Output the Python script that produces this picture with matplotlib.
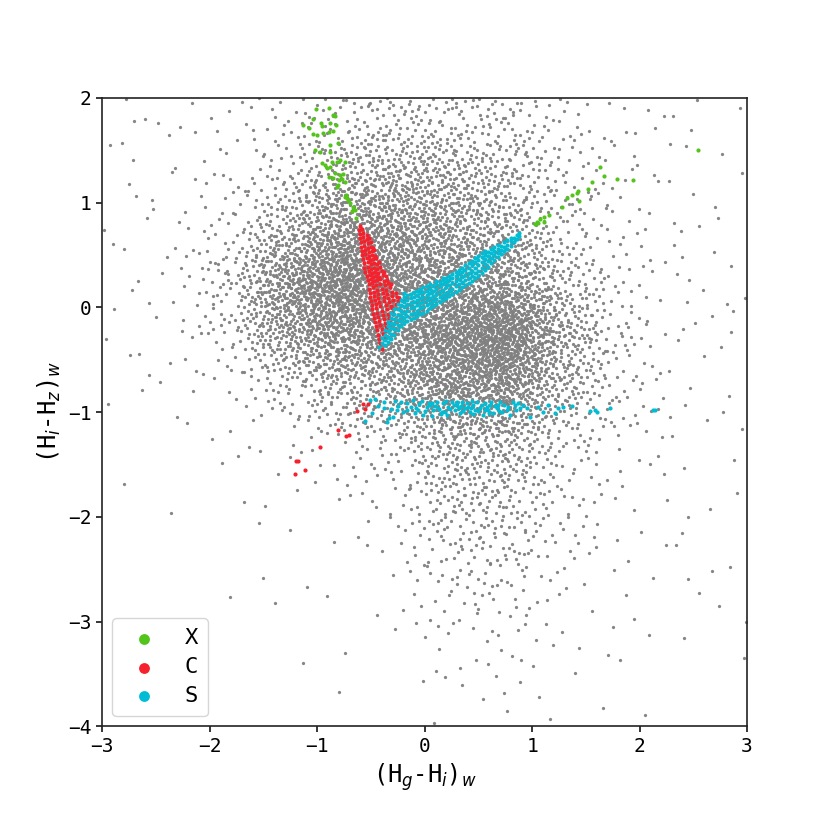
import numpy as np
import matplotlib
matplotlib.use('Agg')
import matplotlib.pyplot as plt

plt.rcParams['font.family'] = ['DejaVu Sans Mono', 'DejaVu Sans']
plt.rcParams['mathtext.fontset'] = 'dejavusans'

# ---------------- data ----------------
# gray background cloud: point counts per 0.5 x 0.5 cell
# rows from y=2 (top) down to y=-4, columns from x=-3 to x=3
gray_x_centers = [-2.75, -2.25, -1.75, -1.25, -0.75, -0.25, 0.25, 0.75, 1.25, 1.75, 2.25, 2.75]
gray_y_centers = [1.75, 1.25, 0.75, 0.25, -0.25, -0.75, -1.25, -1.75, -2.25, -2.75, -3.25, -3.75]
gray_counts = [
    [5, 5, 8, 18, 40, 50, 50, 40, 20, 8, 4, 3],
    [4, 5, 12, 45, 120, 150, 130, 90, 35, 12, 5, 3],
    [3, 7, 28, 130, 280, 260, 200, 130, 45, 14, 6, 3],
    [3, 12, 60, 300, 460, 340, 280, 260, 80, 20, 7, 3],
    [3, 7, 40, 200, 320, 280, 420, 520, 170, 35, 8, 4],
    [2, 4, 12, 45, 100, 160, 330, 330, 120, 30, 7, 3],
    [1, 2, 5, 10, 20, 45, 120, 120, 45, 14, 5, 3],
    [1, 1, 2, 4, 6, 15, 70, 75, 25, 8, 4, 2],
    [0, 1, 1, 2, 3, 8, 40, 45, 15, 6, 3, 2],
    [0, 0, 1, 1, 2, 4, 20, 22, 8, 3, 2, 3],
    [0, 0, 0, 1, 1, 2, 8, 8, 4, 2, 1, 2],
    [0, 0, 0, 0, 0, 1, 3, 3, 2, 1, 1, 0],
]

green_x = [-1.010, -0.892, -0.848, -0.830, -1.127, -1.040, -1.071, -0.963, -0.957, -0.879,
           -0.823, -0.892, -0.848, -1.034, -0.947, -1.003, -0.805, -0.879, -1.019, -0.972,
           -0.879, -0.786, -0.817, -0.740, -0.957, -0.926, -0.879, -0.833, -0.786, -0.761,
           -0.885, -0.848, -0.792, -0.740, -0.811, -0.802, -0.730, -0.724, -0.709, -0.693,
           -0.662, -0.678, -0.647, -0.637, -0.740, -0.771, -0.864, -0.910,
           2.541, 1.636, 1.673, 1.787, 1.943, 1.561, 1.524, 1.431, 1.422, 1.437,
           1.369, 1.329, 1.276, 1.158, 1.111, 1.111, 1.074, 1.043, 1.028, 1.059]
green_y = [1.892, 1.901, 1.838, 1.828, 1.742, 1.796, 1.710, 1.758, 1.733, 1.758,
           1.742, 1.678, 1.688, 1.656, 1.669, 1.647, 1.567, 1.551, 1.503, 1.487,
           1.487, 1.408, 1.392, 1.392, 1.376, 1.360, 1.344, 1.287, 1.265, 1.274,
           1.242, 1.233, 1.217, 1.201, 1.153, 1.169, 1.074, 1.042, 1.026, 0.994,
           0.962, 0.924, 0.930, 0.851, 1.058, 1.223, 1.392, 1.328,
           1.503, 1.344, 1.258, 1.223, 1.217, 1.201, 1.131, 1.112, 1.096, 1.019,
           1.073, 1.042, 0.956, 0.883, 0.867, 0.819, 0.841, 0.819, 0.797, 0.803]

red_x = [-0.60,
         -0.61, -0.58,
         -0.60, -0.57, -0.54,
         -0.60, -0.57, -0.54, -0.52,
         -0.59, -0.56, -0.53, -0.50,
         -0.59, -0.56, -0.53, -0.50, -0.48,
         -0.58, -0.55, -0.52, -0.49, -0.47,
         -0.58, -0.55, -0.52, -0.49, -0.46,
         -0.57, -0.54, -0.51, -0.48, -0.45,
         -0.56, -0.53, -0.50, -0.47, -0.44, -0.42,
         -0.56, -0.53, -0.50, -0.47, -0.44, -0.41,
         -0.55, -0.52, -0.49, -0.46, -0.43, -0.40, -0.38,
         -0.54, -0.51, -0.48, -0.45, -0.42, -0.39, -0.36,
         -0.53, -0.50, -0.47, -0.44, -0.41, -0.38, -0.35,
         -0.52, -0.49, -0.45, -0.41, -0.37, -0.34, -0.31,
         -0.52, -0.48, -0.44, -0.40, -0.36, -0.32,
         -0.51, -0.47, -0.43, -0.39, -0.35, -0.30, -0.27,
         -0.51, -0.47, -0.43, -0.38, -0.34, -0.30, -0.26, -0.24,
         -0.50, -0.46, -0.42, -0.38, -0.33, -0.29, -0.25,
         -0.49, -0.45, -0.41, -0.36, -0.31, -0.27,
         -0.49, -0.45, -0.40, -0.35, -0.30,
         -0.48, -0.44, -0.39, -0.34, -0.30,
         -0.47, -0.43, -0.38, -0.33,
         -0.46, -0.42, -0.37, -0.32,
         -0.45, -0.41, -0.36,
         -0.44, -0.40, -0.36,
         -0.43, -0.39,
         -0.42, -0.38,
         -0.41,
         -0.40,
         -0.569, -0.528, -0.553, -0.631, -0.808, -0.733, -0.699, -0.972,
         -1.195, -1.180, -1.111, -1.204]
red_y = [0.78,
         0.74, 0.75,
         0.70, 0.71, 0.69,
         0.66, 0.67, 0.65, 0.66,
         0.62, 0.63, 0.61, 0.62,
         0.58, 0.59, 0.57, 0.58, 0.57,
         0.54, 0.55, 0.53, 0.54, 0.55,
         0.50, 0.51, 0.49, 0.50, 0.49,
         0.46, 0.47, 0.45, 0.46, 0.47,
         0.42, 0.43, 0.41, 0.42, 0.41, 0.43,
         0.38, 0.39, 0.37, 0.38, 0.37, 0.39,
         0.34, 0.35, 0.33, 0.34, 0.33, 0.35, 0.34,
         0.30, 0.31, 0.29, 0.30, 0.29, 0.31, 0.30,
         0.26, 0.27, 0.25, 0.26, 0.27, 0.25, 0.26,
         0.22, 0.23, 0.21, 0.22, 0.21, 0.23, 0.22,
         0.18, 0.19, 0.17, 0.18, 0.17, 0.19,
         0.14, 0.15, 0.13, 0.14, 0.13, 0.15, 0.14,
         0.10, 0.11, 0.09, 0.10, 0.09, 0.11, 0.10, 0.09,
         0.06, 0.07, 0.05, 0.06, 0.05, 0.07, 0.06,
         0.02, 0.03, 0.01, 0.02, 0.01, 0.03,
         -0.02, -0.01, -0.03, -0.02, -0.01,
         -0.06, -0.05, -0.07, -0.06, -0.05,
         -0.10, -0.09, -0.11, -0.10,
         -0.14, -0.13, -0.15, -0.14,
         -0.18, -0.17, -0.19,
         -0.22, -0.21, -0.23,
         -0.26, -0.25,
         -0.30, -0.29,
         -0.34,
         -0.40,
         -0.922, -0.922, -0.970, -0.989, -1.171, -1.228, -1.219, -1.336,
         -1.467, -1.467, -1.553, -1.594]

# cyan V-arm: column x positions with the y values seen in each column
cyan_arm_x = [-0.42, -0.40, -0.37, -0.34, -0.31, -0.28, -0.25, -0.22, -0.19, -0.16,
              -0.13, -0.10, -0.07, -0.04, -0.01, 0.02, 0.05, 0.08, 0.11, 0.14,
              0.17, 0.20, 0.23, 0.26, 0.29, 0.32, 0.35, 0.38, 0.41, 0.44,
              0.47, 0.50, 0.53, 0.56, 0.59, 0.62, 0.65, 0.68, 0.71, 0.74,
              0.77, 0.80, 0.83, 0.86, 0.88]
cyan_arm_y = [[-0.38],
              [-0.34, -0.29],
              [-0.36, -0.31, -0.26, -0.22],
              [-0.33, -0.28, -0.23, -0.18, -0.14],
              [-0.30, -0.25, -0.20, -0.15, -0.10, -0.05],
              [-0.26, -0.21, -0.16, -0.11, -0.06, -0.02],
              [-0.22, -0.17, -0.12, -0.07, -0.02, 0.03],
              [-0.18, -0.13, -0.08, -0.03, 0.02, 0.07],
              [-0.15, -0.10, -0.05, 0.00, 0.05, 0.10, 0.14],
              [-0.13, -0.08, -0.03, 0.02, 0.07, 0.12],
              [-0.11, -0.06, -0.01, 0.04, 0.09, 0.13],
              [-0.10, -0.05, 0.00, 0.05, 0.10, 0.15],
              [-0.08, -0.03, 0.02, 0.07, 0.12, 0.16],
              [-0.06, -0.01, 0.04, 0.09, 0.14, 0.18],
              [-0.05, 0.00, 0.05, 0.10, 0.15, 0.19],
              [-0.03, 0.02, 0.07, 0.12, 0.16, 0.20],
              [-0.01, 0.04, 0.09, 0.14, 0.18, 0.22],
              [0.01, 0.06, 0.11, 0.16, 0.20],
              [0.03, 0.08, 0.13, 0.18, 0.22, 0.25],
              [0.05, 0.10, 0.15, 0.20, 0.24],
              [0.07, 0.12, 0.17, 0.22, 0.26, 0.28],
              [0.09, 0.14, 0.19, 0.24, 0.28],
              [0.11, 0.16, 0.21, 0.26, 0.30],
              [0.13, 0.18, 0.23, 0.28, 0.32],
              [0.15, 0.20, 0.25, 0.30, 0.34],
              [0.17, 0.22, 0.27, 0.32, 0.36],
              [0.19, 0.24, 0.29, 0.34, 0.38],
              [0.21, 0.26, 0.31, 0.36, 0.40],
              [0.23, 0.28, 0.33, 0.38, 0.42],
              [0.25, 0.30, 0.35, 0.40, 0.44],
              [0.28, 0.33, 0.38, 0.43, 0.47],
              [0.30, 0.35, 0.40, 0.45, 0.49],
              [0.33, 0.38, 0.43, 0.48, 0.52],
              [0.36, 0.41, 0.46, 0.50, 0.54],
              [0.39, 0.44, 0.49, 0.53],
              [0.42, 0.47, 0.52, 0.56],
              [0.45, 0.50, 0.54, 0.58],
              [0.48, 0.52, 0.56, 0.60],
              [0.51, 0.55, 0.59],
              [0.54, 0.58, 0.62],
              [0.56, 0.60, 0.64],
              [0.59, 0.63, 0.66],
              [0.62, 0.66],
              [0.65, 0.69],
              [0.68, 0.71]]

# cyan horizontal band near y = -0.95
cyan_band_x = [-0.553, -0.507, -0.460, -0.429, -0.491, -0.377, -0.352, -0.327, -0.274, -0.290,
               -0.252, -0.243, -0.166, -0.166, -0.104, -0.088, -0.057, -0.026, -0.011, 0.020,
               0.051, 0.067, 0.082, 0.113, 0.129, 0.160, 0.175, 0.206, 0.222, 0.253,
               0.284, 0.299, 0.330, 0.346, 0.377, 0.392, 0.423, 0.454, 0.470, 0.485,
               0.517, 0.547, 0.563, 0.594, 0.609, 0.641, 0.672, 0.703, 0.718, 0.765,
               0.796, 0.842, 0.873, 0.889, 0.951, 0.982, 1.059, 1.106, 1.152, 1.214,
               1.245, 1.292, 1.369, 1.540, 1.586, 1.602, 1.726, 2.129, 2.144,
               -0.13, -0.05, 0.00, 0.10, 0.15, 0.24, 0.27, 0.32, 0.36, 0.40,
               0.44, 0.50, 0.53, 0.58, 0.62, 0.66, 0.69, 0.74, 0.78, 0.82,
               0.45, 0.20, -0.20, -0.38,
               -0.08, 0.04, 0.13, 0.19, 0.30, 0.43, 0.56, 0.68, 0.85, 0.92,
               -0.31, -0.22, 0.07, 0.34, 0.60]
cyan_band_y = [-1.085, -0.884, -0.875, -0.938, -1.012, -0.957, -1.091, -1.053, -0.894, -1.043,
               -0.980, -0.938, -0.916, -0.980, -0.884, -1.012, -0.980, -0.894, -1.028, -0.948,
               -0.932, -1.034, -0.980, -0.900, -0.964, -0.996, -0.916, -1.028, -0.948, -0.900,
               -0.980, -0.932, -1.012, -0.900, -0.964, -0.916, -0.996, -0.932, -0.980, -0.900,
               -0.964, -1.028, -0.916, -0.980, -0.932, -1.012, -0.964, -0.900, -0.996, -0.980,
               -1.028, -0.932, -0.916, -0.964, -0.957, -1.043, -0.948, -0.996, -0.932, -1.012,
               -0.957, -0.948, -0.938, -0.989, -0.980, -0.996, -0.964, -0.980, -0.980,
               -0.95, -0.92, -0.99, -0.94, -1.02, -0.97, -0.93, -0.96, -0.99, -0.95,
               -0.89, -0.99, -0.93, -0.95, -0.90, -0.94, -0.99, -0.93, -0.95, -0.90,
               -1.02, -0.89, -1.00, -0.90,
               -0.96, -0.91, -0.97, -1.00, -0.90, -0.96, -0.98, -0.93, -0.98, -0.93,
               -0.97, -0.90, -0.91, -0.94, -1.01]

labels = ['X', 'C', 'S']
colors = ['#52c41a', '#f5222d', '#00bcd4']
x_ticks = [-3, -2, -1, 0, 1, 2, 3]
y_ticks = [-4, -3, -2, -1, 0, 1, 2]

# ---------------- gray cloud placement (deterministic, follows the counts) ----------------
def halton(n, base):
    i = np.arange(1, n + 1)
    f = 1.0
    r = np.zeros(n)
    while np.any(i > 0):
        f /= base
        r += f * (i % base)
        i = i // base
    return r

counts = np.array(gray_counts, dtype=float)[::-1]      # rows now y ascending
gxc = np.array(gray_x_centers)
gyc = np.array(gray_y_centers)[::-1]
cmax = counts.max()
n_cand = int(len(gxc) * len(gyc) * cmax)
u = -3 + 6 * halton(n_cand, 2)
v = -4 + 6 * halton(n_cand, 3)
w = halton(n_cand, 5)

fx = np.clip((u - gxc[0]) / 0.5, 0, len(gxc) - 1.0001)
fy = np.clip((v - gyc[0]) / 0.5, 0, len(gyc) - 1.0001)
ix = np.floor(fx).astype(int)
iy = np.floor(fy).astype(int)
tx = fx - ix
ty = fy - iy
dens = (counts[iy, ix] * (1 - tx) * (1 - ty) + counts[iy, ix + 1] * tx * (1 - ty)
        + counts[iy + 1, ix] * (1 - tx) * ty + counts[iy + 1, ix + 1] * tx * ty)
keep = w < dens / cmax
gray_px = u[keep]
gray_py = v[keep]

cyan_x = [cx for cx, col in zip(cyan_arm_x, cyan_arm_y) for _ in col] + cyan_band_x
cyan_y = [cy for col in cyan_arm_y for cy in col] + cyan_band_y

# ---------------- figure ----------------
fig = plt.figure(figsize=(8.3, 8.3), dpi=100)
ax = fig.add_axes([0.123, 0.125, 0.777, 0.757])

ax.scatter(gray_px, gray_py, s=5.5, c='#808080', alpha=0.95, linewidths=0, zorder=1)
ax.scatter(green_x, green_y, s=9, c=colors[0], linewidths=0, label=labels[0], zorder=2)
ax.scatter(red_x, red_y, s=9, c=colors[1], linewidths=0, label=labels[1], zorder=3)
ax.scatter(cyan_x, cyan_y, s=9, c=colors[2], linewidths=0, label=labels[2], zorder=4)

ax.set_xlim(-3, 3)
ax.set_ylim(-4, 2)
ax.set_xticks(x_ticks)
ax.set_yticks(y_ticks)
ax.tick_params(labelsize=14, length=4, width=1.1)
for sp in ax.spines.values():
    sp.set_linewidth(1.2)
    sp.set_color('#222222')

ax.set_xlabel(r'(H$_g$-H$_i$)$_w$', fontsize=17)
ax.set_ylabel(r'(H$_i$-H$_z$)$_w$', fontsize=17)

leg = ax.legend(loc='lower left', markerscale=2.6, fontsize=16, borderpad=0.45,
                handletextpad=0.8, labelspacing=0.4, borderaxespad=0.45)

fig.savefig('out.png', dpi=100)
